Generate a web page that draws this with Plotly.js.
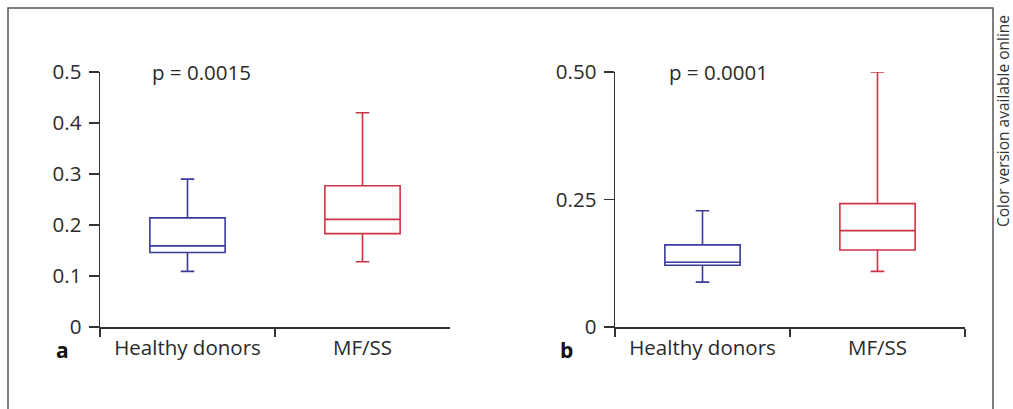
<!DOCTYPE html>
<html><head><meta charset="utf-8">
<script src="https://cdn.plot.ly/plotly-3.0.1.min.js"></script>
<style>html,body{margin:0;padding:0;background:#fff}#chart{width:1013px;height:409px}</style>
</head><body><div id="chart"></div>
<script>
// Categories
const categories = ['Healthy donors', 'MF/SS'];
// Panel a box statistics [Healthy donors, MF/SS]
const aLower  = [0.109, 0.128];
const aQ1     = [0.146, 0.183];
const aMedian = [0.159, 0.211];
const aQ3     = [0.214, 0.277];
const aUpper  = [0.290, 0.420];
// Panel b box statistics
const bLower  = [0.088, 0.109];
const bQ1     = [0.121, 0.151];
const bMedian = [0.127, 0.189];
const bQ3     = [0.161, 0.242];
const bUpper  = [0.228, 0.500];
// Tick labels
const aTickVals = [0, 0.1, 0.2, 0.3, 0.4, 0.5];
const aTickText = ['0', '0.1', '0.2', '0.3', '0.4', '0.5'];
const bTickVals = [0, 0.25, 0.5];
const bTickText = ['0', '0.25', '0.50'];
const pTexts = ['p = 0.0015', 'p = 0.0001'];
const panelLabels = ['a', 'b'];
const colors = ['#3b3b9c', '#cc3344'];

const W = 1013, H = 409;
const FONT = 'Open Sans, Noto Sans, sans-serif';
const FS = 20.5;
const traces = [];
function addBoxes(xa, ya, lo, q1, me, q3, up) {
  categories.forEach((c, i) => {
    traces.push({
      type: 'box', x: [c], q1: [q1[i]], median: [me[i]], q3: [q3[i]],
      lowerfence: [lo[i]], upperfence: [up[i]],
      xaxis: xa, yaxis: ya, boxpoints: false,
      fillcolor: 'rgba(255,255,255,0)',
      line: {color: colors[i], width: 1.6},
      width: 0.43, whiskerwidth: 0.18, showlegend: false, hoverinfo: 'skip'
    });
  });
}
addBoxes('x', 'y', aLower, aQ1, aMedian, aQ3, aUpper);
addBoxes('x2', 'y2', bLower, bQ1, bMedian, bQ3, bUpper);

const yDom = [(H - 327) / H, (H - 72) / H];
const axisCommon = {
  showline: true, linecolor: '#333', linewidth: 1.5, ticks: 'outside',
  tickcolor: '#333', tickwidth: 1.5, showgrid: false, zeroline: false,
  tickfont: {family: FONT, size: FS, color: '#2a2a2a'}, fixedrange: true
};
const xCommon = Object.assign({}, axisCommon, {
  type: 'category', categoryarray: categories, range: [-0.5, 1.5],
  tickson: 'boundaries', ticklen: 8, ticklabelstandoff: 2
});
const yCommon = Object.assign({}, axisCommon, {
  range: [0, 0.5], ticklen: 10, ticklabelstandoff: 3
});

const layout = {
  width: W, height: H, margin: {l: 0, r: 0, t: 0, b: 0},
  paper_bgcolor: '#fff', plot_bgcolor: 'rgba(0,0,0,0)',
  xaxis: Object.assign({}, xCommon, {domain: [100 / W, 450 / W], anchor: 'y'}),
  yaxis: Object.assign({}, yCommon, {domain: yDom, anchor: 'x', tickvals: aTickVals, ticktext: aTickText}),
  xaxis2: Object.assign({}, xCommon, {domain: [615 / W, 965 / W], anchor: 'y2'}),
  yaxis2: Object.assign({}, yCommon, {domain: yDom, anchor: 'x2', tickvals: bTickVals, ticktext: bTickText}),
  shapes: [{
    type: 'rect', xref: 'paper', yref: 'paper',
    x0: 8 / W, x1: 993 / W, y0: -0.2, y1: (H - 8) / H,
    line: {color: '#555', width: 1.5}, fillcolor: 'rgba(0,0,0,0)'
  }],
  annotations: [
    {xref: 'paper', yref: 'paper', x: 201 / W, y: (H - 72) / H, text: pTexts[0], showarrow: false,
     font: {family: FONT, size: FS, color: '#2a2a2a'}, xanchor: 'center', yanchor: 'middle'},
    {xref: 'paper', yref: 'paper', x: 718 / W, y: (H - 72) / H, text: pTexts[1], showarrow: false,
     font: {family: FONT, size: FS, color: '#2a2a2a'}, xanchor: 'center', yanchor: 'middle'},
    {xref: 'paper', yref: 'paper', x: 62 / W, y: (H - 350) / H, text: '<b>' + panelLabels[0] + '</b>', showarrow: false,
     font: {family: FONT, size: 21, color: '#111'}, xanchor: 'center', yanchor: 'middle'},
    {xref: 'paper', yref: 'paper', x: 566 / W, y: (H - 350) / H, text: '<b>' + panelLabels[1] + '</b>', showarrow: false,
     font: {family: FONT, size: 21, color: '#111'}, xanchor: 'center', yanchor: 'middle'},
    {xref: 'paper', yref: 'paper', x: 1003 / W, y: (H - 121) / H, text: 'Color version available online', showarrow: false,
     textangle: -90, font: {family: FONT, size: 15.5, color: '#333'}, xanchor: 'center', yanchor: 'middle'}
  ]
};
Plotly.newPlot('chart', traces, layout, {displayModeBar: false, staticPlot: true});
</script></body></html>
